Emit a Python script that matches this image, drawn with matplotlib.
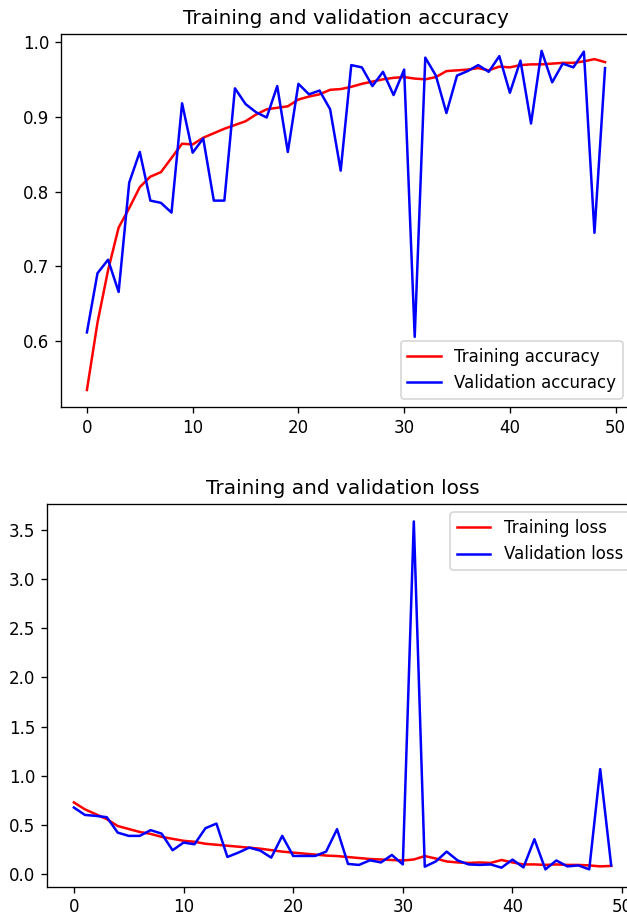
import matplotlib
matplotlib.use("Agg")
import matplotlib.pyplot as plt

# accuracy per epoch
acc = [0.535, 0.625, 0.695, 0.752, 0.778, 0.806, 0.820, 0.826, 0.845, 0.864,
       0.863, 0.872, 0.878, 0.884, 0.889, 0.894, 0.903, 0.910, 0.912, 0.914,
       0.923, 0.927, 0.930, 0.936, 0.937, 0.940, 0.944, 0.947, 0.950, 0.952,
       0.953, 0.951, 0.950, 0.953, 0.961, 0.962, 0.963, 0.965, 0.962, 0.967,
       0.966, 0.969, 0.970, 0.970, 0.971, 0.972, 0.972, 0.974, 0.977, 0.973]
val_acc = [0.612, 0.691, 0.709, 0.666, 0.812, 0.853, 0.788, 0.785, 0.772, 0.918,
           0.852, 0.871, 0.788, 0.788, 0.938, 0.917, 0.906, 0.899, 0.941, 0.853,
           0.944, 0.930, 0.935, 0.910, 0.828, 0.969, 0.966, 0.941, 0.960, 0.929,
           0.963, 0.606, 0.979, 0.955, 0.905, 0.955, 0.961, 0.969, 0.960, 0.981,
           0.932, 0.975, 0.891, 0.988, 0.946, 0.971, 0.966, 0.987, 0.745, 0.965]

# loss per epoch
loss = [0.73, 0.66, 0.61, 0.56, 0.49, 0.46, 0.43, 0.41, 0.38, 0.36,
        0.34, 0.33, 0.31, 0.30, 0.29, 0.28, 0.27, 0.26, 0.245, 0.23,
        0.22, 0.21, 0.20, 0.19, 0.185, 0.175, 0.165, 0.155, 0.15, 0.145,
        0.14, 0.15, 0.185, 0.16, 0.13, 0.12, 0.115, 0.12, 0.115, 0.145,
        0.12, 0.10, 0.10, 0.095, 0.10, 0.095, 0.095, 0.09, 0.08, 0.085]
val_loss = [0.678, 0.603, 0.593, 0.58, 0.423, 0.39, 0.39, 0.448, 0.413, 0.244,
            0.322, 0.305, 0.468, 0.515, 0.176, 0.22, 0.271, 0.24, 0.169, 0.39,
            0.186, 0.186, 0.186, 0.23, 0.458, 0.105, 0.095, 0.142, 0.12, 0.196,
            0.10, 3.584, 0.077, 0.13, 0.23, 0.14, 0.10, 0.095, 0.10, 0.067,
            0.149, 0.07, 0.356, 0.05, 0.14, 0.08, 0.09, 0.05, 1.068, 0.09]

epochs = range(len(acc))

# 120 dpi -> 627x917 px
fig = plt.figure(figsize=(627 / 120, 917 / 120), dpi=120)

# top: accuracy (right edge runs past the crop, as in the original)
ax1 = fig.add_axes([0.0973, 0.5562, 0.909, 0.4068])
ax1.plot(epochs, acc, 'r', label='Training accuracy')
ax1.plot(epochs, val_acc, 'b', label='Validation accuracy')
ax1.set_title('Training and validation accuracy')
ax1.legend(loc='lower right')

# bottom: loss
ax2 = fig.add_axes([0.075, 0.033, 0.9426, 0.4173])
ax2.plot(epochs, loss, 'r', label='Training loss')
ax2.plot(epochs, val_loss, 'b', label='Validation loss')
ax2.set_title('Training and validation loss')
ax2.legend(loc='upper right')

plt.savefig("out.png", dpi=120)
